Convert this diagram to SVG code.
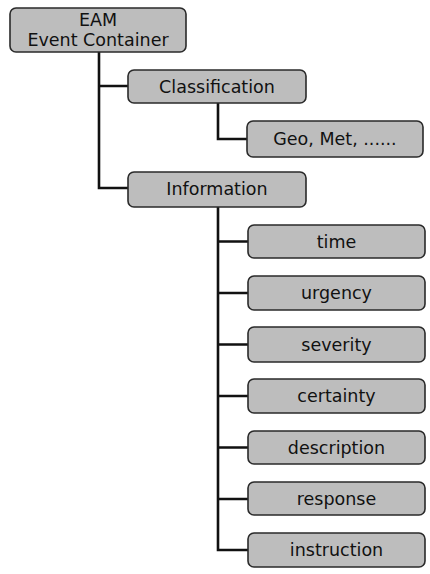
<svg xmlns="http://www.w3.org/2000/svg" width="430" height="574" viewBox="0 0 430 574">
<style>
.box{fill:#bdbdbd;stroke:#2a2a2a;stroke-width:1.6}
.lbl{font-family:"DejaVu Sans",sans-serif;font-size:17.5px;fill:#111;text-anchor:middle}
.con{fill:none;stroke:#111;stroke-width:2.6}
</style>
<rect width="430" height="574" fill="#fff"/>
<g id="connectors">
<path class="con" d="M99 52V188H128M99 86H128"/>
<path class="con" d="M218 103V139H247"/>
<path class="con" d="M218 207V550H248M218 241.5H248M218 293H248M218 344.5H248M218 396H248M218 447.5H248M218 499H248"/>
</g>
<g id="eam"><rect class="box" x="10" y="8" width="176" height="44" rx="6"/><text class="lbl" x="98" y="26">EAM</text><text class="lbl" x="98" y="46">Event Container</text></g>
<g id="classification"><rect class="box" x="128" y="70" width="178" height="33" rx="6"/><text class="lbl" x="217" y="93">Classification</text></g>
<g id="geo"><rect class="box" x="247" y="121" width="176" height="36" rx="6"/><text class="lbl" x="335" y="145">Geo, Met, ......</text></g>
<g id="information"><rect class="box" x="128" y="172" width="178" height="35" rx="6"/><text class="lbl" x="217" y="195">Information</text></g>
<g id="time"><rect class="box" x="248" y="225" width="177" height="33" rx="6"/><text class="lbl" x="336.5" y="247.5">time</text></g>
<g id="urgency"><rect class="box" x="248" y="276" width="177" height="34" rx="6"/><text class="lbl" x="336.5" y="299">urgency</text></g>
<g id="severity"><rect class="box" x="248" y="327" width="177" height="35" rx="6"/><text class="lbl" x="336.5" y="350.5">severity</text></g>
<g id="certainty"><rect class="box" x="248" y="379" width="177" height="34" rx="6"/><text class="lbl" x="336.5" y="402">certainty</text></g>
<g id="description"><rect class="box" x="248" y="431" width="177" height="33" rx="6"/><text class="lbl" x="336.5" y="453.5">description</text></g>
<g id="response"><rect class="box" x="248" y="482" width="177" height="33" rx="6"/><text class="lbl" x="336.5" y="504.5">response</text></g>
<g id="instruction"><rect class="box" x="248" y="533" width="177" height="34" rx="6"/><text class="lbl" x="336.5" y="556">instruction</text></g>
</svg>
